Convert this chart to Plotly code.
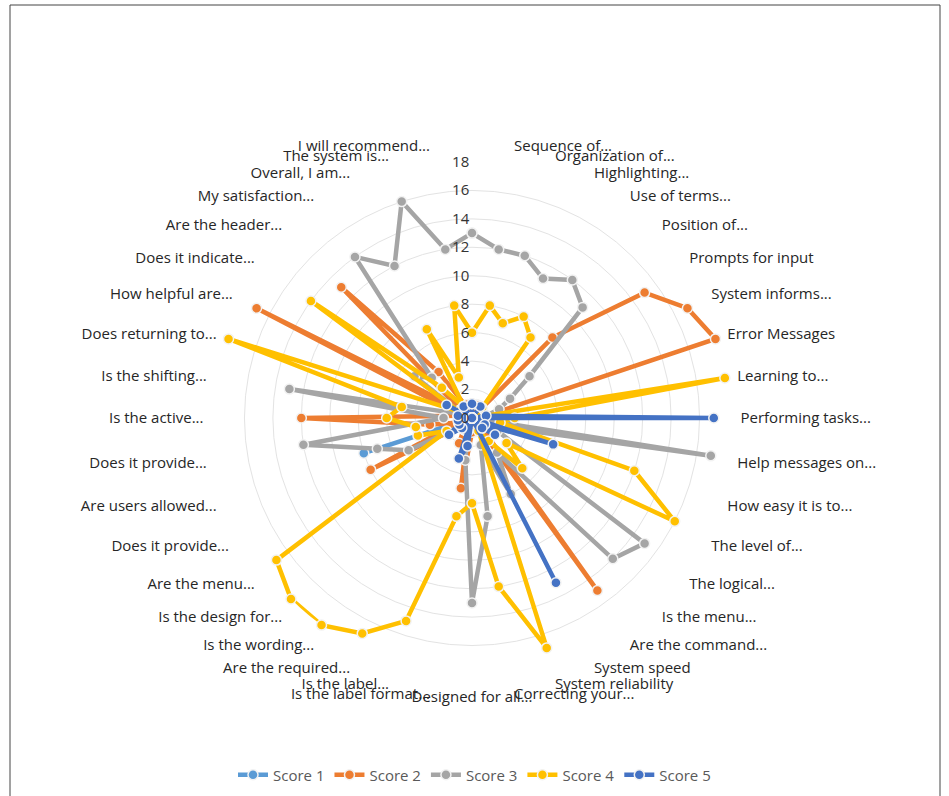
import plotly.graph_objects as go

categories = [
    "\u00a0", "Sequence of...", "Organization of...", "Highlighting...", "Use of terms...",
    "Position of...", "Prompts for input", "System informs...", "Error Messages", "Learning to...",
    "Performing tasks...", "Help messages on...", "How easy it is to...", "The level of...", "The logical...",
    "Is the menu...", "Are the command...", "System speed", "System reliability", "Correcting your...",
    "Designed for all...", "Is the label format...", "Is the label...", "Are the required...", "Is the wording...",
    "Is the design for...", "Are the menu...", "Does it provide... ", "Are users allowed...", "Does it provide...",
    "Is the active...", "Is the shifting...", "Does returning to...", "How helpful are...", "Does it indicate...",
    "Are the header...", "My satisfaction...", "Overall, I am...", "The system is...", "I will recommend...",
]

score1 = [0, 0, 0, 0, 0, 0, 0, 0, 0, 0,
          0, 0, 0, 0, 0, 0, 0, 0, 0, 0,
          0, 0, 0, 0, 0, 0, 0, 0, 8, 0,
          0, 0, 0, 0, 0, 0, 0, 0, 0, 0]
score2 = [0, 0, 1, 1, 0, 8, 15, 17, 18, 1,
          0, 1, 0, 1, 0, 1, 15, 0, 1, 1,
          1, 5, 1, 2, 1, 1, 1, 8, 1, 3,
          12, 1, 1, 17, 1, 13, 4, 1, 1, 0]
score3 = [13, 12, 12, 11, 12, 11, 5, 3, 2, 1,
          0, 17, 2, 2, 15, 14, 3, 6, 2, 7,
          13, 3, 1, 1, 1, 1, 1, 5, 7, 12,
          2, 13, 1, 1, 5, 4, 14, 12, 16, 12]
score4 = [6, 8, 7, 8, 7, 1, 0, 0, 0, 18,
          3, 2, 12, 16, 3, 5, 2, 1, 17, 12,
          6, 7, 15, 17, 18, 18, 17, 2, 4, 4,
          6, 5, 18, 1, 14, 3, 1, 7, 3, 8]
score5 = [1, 0, 0, 0, 1, 0, 0, 0, 0, 1,
          17, 0, 6, 1, 2, 1, 0, 13, 0, 0,
          0, 2, 3, 0, 0, 1, 2, 1, 0, 1,
          0, 1, 0, 2, 0, 0, 1, 0, 0, 0]

series_names = ["Score 1", "Score 2", "Score 3", "Score 4", "Score 5"]
series_values = [score1, score2, score3, score4, score5]
colors = ["#5B9BD5", "#ED7D31", "#A5A5A5", "#FFC000", "#4472C4"]
radial_ticks = [0, 2, 4, 6, 8, 10, 12, 14, 16, 18]

fig = go.Figure()
for name, vals, col in zip(series_names, series_values, colors):
    fig.add_trace(go.Scatterpolar(
        r=vals + vals[:1],
        theta=categories + categories[:1],
        mode="lines+markers",
        name=name,
        line=dict(color=col, width=4.5),
        marker=dict(size=10, color=col, line=dict(color="#F2F2F2", width=1.5)),
    ))

W, H = 949, 796
cx, cy, R = 472, 418, 256
fig.update_layout(
    width=W, height=H,
    margin=dict(l=0, r=0, t=0, b=0),
    paper_bgcolor="white",
    plot_bgcolor="white",
    font=dict(family="Open Sans, sans-serif", color="#404040"),
    polar=dict(
        domain=dict(x=[(cx - R) / W, (cx + R) / W], y=[(H - cy - R) / H, (H - cy + R) / H]),
        bgcolor="white",
        radialaxis=dict(
            range=[0, 18], tickvals=radial_ticks, angle=90, tickangle=90,
            side="counterclockwise", showline=False, ticks="",
            gridcolor="#E3E3E3", gridwidth=1,
            tickfont=dict(size=15, color="#333333"),
        ),
        angularaxis=dict(
            direction="clockwise", rotation=90, type="category",
            showline=False, ticks="outside", ticklen=9, tickcolor="rgba(0,0,0,0)",
            showgrid=False,
            tickfont=dict(size=15, color="#262626"),
        ),
    ),
    legend=dict(
        orientation="h", x=0.5, xanchor="center", y=(H - 775) / H, yanchor="middle",
        font=dict(size=15, color="#595959"),
    ),
    shapes=[dict(type="rect", xref="paper", yref="paper",
                 x0=10 / W, x1=940 / W, y0=-0.05, y1=(H - 5) / H,
                 line=dict(color="#444444", width=1))],
)

fig.write_html("out.html")
